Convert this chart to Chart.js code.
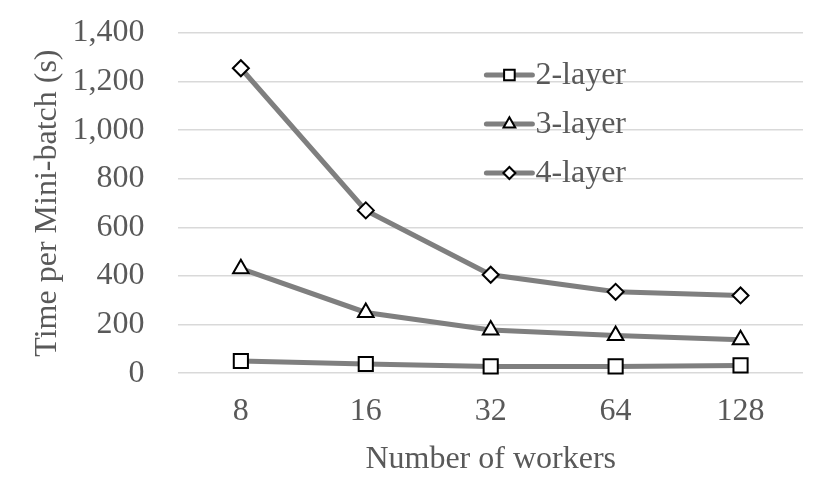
<!DOCTYPE html>
<html>
<head>
<meta charset="utf-8">
<script src="https://cdn.jsdelivr.net/npm/chart.js@4.4.0/dist/chart.umd.min.js"></script>
<style>
  html, body { margin: 0; padding: 0; background: #fff; }
  #wrap { width: 830px; height: 500px; }
</style>
</head>
<body>
<div id="wrap"><canvas id="chart" width="830" height="500"></canvas></div>
<script>
// chart data
const workers = ["8", "16", "32", "64", "128"];
const layer2 = [50, 38, 28, 28, 32];
const layer3 = [430, 250, 178, 155, 138];
const layer4 = [1255, 670, 405, 335, 320];
const seriesNames = ["2-layer", "3-layer", "4-layer"];
const yTicks = [0, 200, 400, 600, 800, 1000, 1200, 1400];

const lineColor = "#7f7f7f";
const textColor = "#595959";
const fontFamily = "'Liberation Serif', 'Times New Roman', serif";

const markerStyles = [
    { pointStyle: "rect", radius: 10 },
    { pointStyle: "triangle", radius: 9 },
    { pointStyle: "rectRot", radius: 8 },
];

function makeDataset(label, values, idx) {
    return {
        label: label,
        data: values,
        borderColor: lineColor,
        borderWidth: 5,
        tension: 0,
        fill: false,
        clip: false,
        pointStyle: markerStyles[idx].pointStyle,
        pointRadius: markerStyles[idx].radius,
        pointHoverRadius: markerStyles[idx].radius,
        pointBackgroundColor: "#fff",
        pointBorderColor: "#000",
        pointBorderWidth: 2,
    };
}

// legend drawn inside the plot area
const innerLegend = {
    id: "innerLegend",
    afterDatasetsDraw(chart) {
        const ctx = chart.ctx;
        const area = chart.chartArea;
        const x0 = area.left + 308;
        const y0 = area.top + 42;
        const step = 49;
        ctx.save();
        chart.data.datasets.forEach((ds, i) => {
            const y = y0 + i * step;
            ctx.strokeStyle = lineColor;
            ctx.lineWidth = 5;
            ctx.lineCap = "round";
            ctx.beginPath();
            ctx.moveTo(x0, y);
            ctx.lineTo(x0 + 46, y);
            ctx.stroke();
            ctx.fillStyle = "#fff";
            ctx.strokeStyle = "#000";
            ctx.lineWidth = 2;
            Chart.helpers.drawPoint(ctx, {
                pointStyle: ds.pointStyle,
                radius: ds.pointRadius * 0.75,
                borderWidth: 2,
            }, x0 + 23, y);
            ctx.fillStyle = textColor;
            ctx.font = "32px " + fontFamily;
            ctx.textBaseline = "middle";
            ctx.textAlign = "left";
            ctx.fillText(ds.label, x0 + 49, y + 1);
        });
        ctx.restore();
    },
};

new Chart(document.getElementById("chart"), {
    type: "line",
    data: {
        labels: workers,
        datasets: [
            makeDataset(seriesNames[0], layer2, 0),
            makeDataset(seriesNames[1], layer3, 1),
            makeDataset(seriesNames[2], layer4, 2),
        ],
    },
    options: {
        responsive: false,
        animation: false,
        layout: { padding: { left: 28, right: 27, top: 33, bottom: 21 } },
        plugins: {
            legend: { display: false },
            tooltip: { enabled: false },
        },
        scales: {
            x: {
                offset: true,
                grid: { display: false, drawTicks: false },
                border: { display: false },
                ticks: {
                    color: textColor,
                    padding: 19,
                    font: { family: fontFamily, size: 32 },
                },
                title: {
                    display: true,
                    text: "Number of workers",
                    color: textColor,
                    padding: { top: -9, bottom: 0 },
                    font: { family: fontFamily, size: 32 },
                },
            },
            y: {
                min: 0,
                max: 1400,
                afterBuildTicks: (axis) => {
                    axis.ticks = yTicks.map((v) => ({ value: v }));
                },
                grid: {
                    color: "#d9d9d9",
                    lineWidth: 1.5,
                    drawTicks: true,
                    tickLength: 34,
                    tickColor: "rgba(0,0,0,0)",
                },
                border: { display: false },
                ticks: {
                    color: textColor,
                    padding: 0,
                    font: { family: fontFamily, size: 32 },
                    callback: (v) => v.toLocaleString("en-US"),
                },
                title: {
                    display: true,
                    text: "Time per Mini-batch (s)",
                    color: textColor,
                    padding: { top: 0, bottom: 6 },
                    font: { family: fontFamily, size: 32 },
                },
            },
        },
    },
    plugins: [innerLegend],
});
</script>
</body>
</html>
